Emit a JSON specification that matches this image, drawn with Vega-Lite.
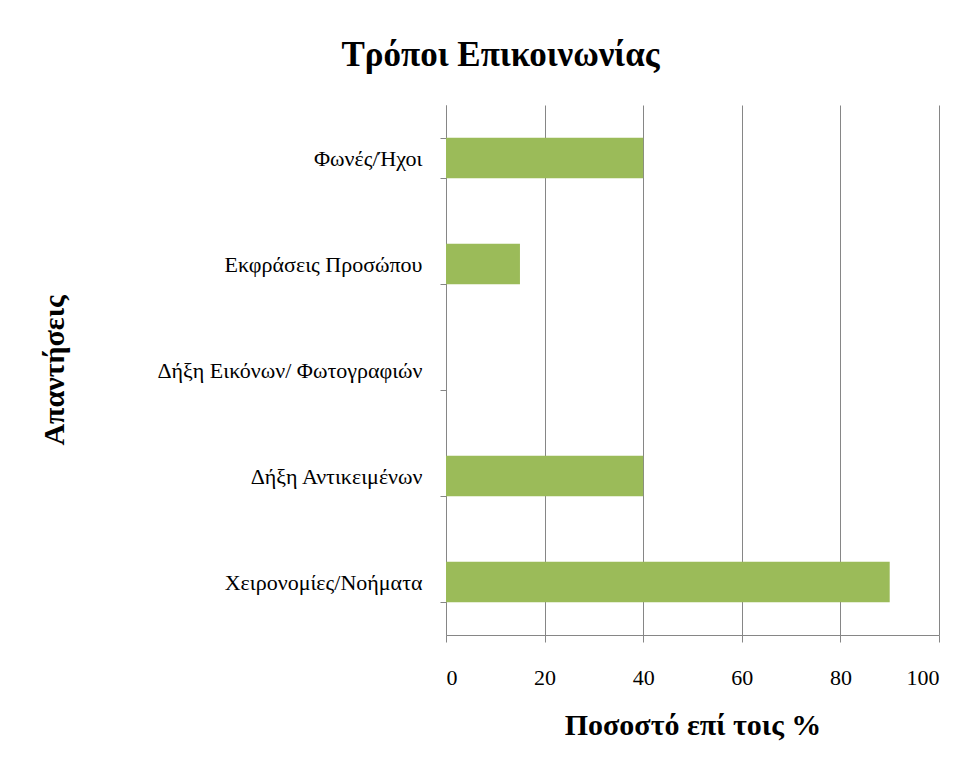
{
  "$schema": "https://vega.github.io/schema/vega-lite/v6.json",
  "autosize": "none",
  "width": 493,
  "height": 530,
  "padding": {"left": 446, "top": 105, "right": 38, "bottom": 139},
  "background": "white",
  "title": {
    "text": "Τρόποι Επικοινωνίας",
    "font": "Liberation Serif",
    "fontSize": 35,
    "fontWeight": "bold",
    "color": "#000000",
    "anchor": "middle",
    "dx": -192,
    "offset": 21
  },
  "data": {
    "values": [
      {"category": "Φωνές/Ήχοι", "value": 40},
      {"category": "Εκφράσεις Προσώπου", "value": 15},
      {"category": "Δήξη Εικόνων/ Φωτογραφιών", "value": 0},
      {"category": "Δήξη Αντικειμένων", "value": 40},
      {"category": "Χειρονομίες/Νοήματα", "value": 90}
    ]
  },
  "mark": {"type": "bar", "color": "#9BBB59"},
  "encoding": {
    "y": {
      "field": "category",
      "type": "nominal",
      "sort": null,
      "scale": {"paddingInner": 0.62, "paddingOuter": 0.31},
      "axis": {
        "title": "Απαντήσεις",
        "titleFont": "Liberation Serif",
        "titleFontSize": 30,
        "titleFontWeight": "bold",
        "titleColor": "#000000",
        "titleX": -377,
        "titleY": 265,
        "labelFont": "Liberation Serif",
        "labelFontSize": 22,
        "labelLimit": 0,
        "labelColor": "#000000",
        "labelPadding": 18,
        "tickBand": "extent",
        "tickSize": 6,
        "tickColor": "#868686",
        "domainColor": "#868686",
        "grid": false
      }
    },
    "x": {
      "field": "value",
      "type": "quantitative",
      "scale": {"domain": [0, 100]},
      "axis": {
        "title": "Ποσοστό επί τοις %",
        "values": [0, 20, 40, 60, 80, 100],
        "titleFont": "Liberation Serif",
        "titleFontSize": 30,
        "titleFontWeight": "bold",
        "titleColor": "#000000",
        "titlePadding": 22,
        "labelFont": "Liberation Serif",
        "labelFontSize": 22,
        "labelColor": "#000000",
        "labelPadding": 25,
        "tickSize": 7,
        "tickColor": "#868686",
        "domainColor": "#868686",
        "grid": true,
        "gridColor": "#868686",
        "gridWidth": 1
      }
    }
  },
  "config": {"view": {"stroke": null}}
}
